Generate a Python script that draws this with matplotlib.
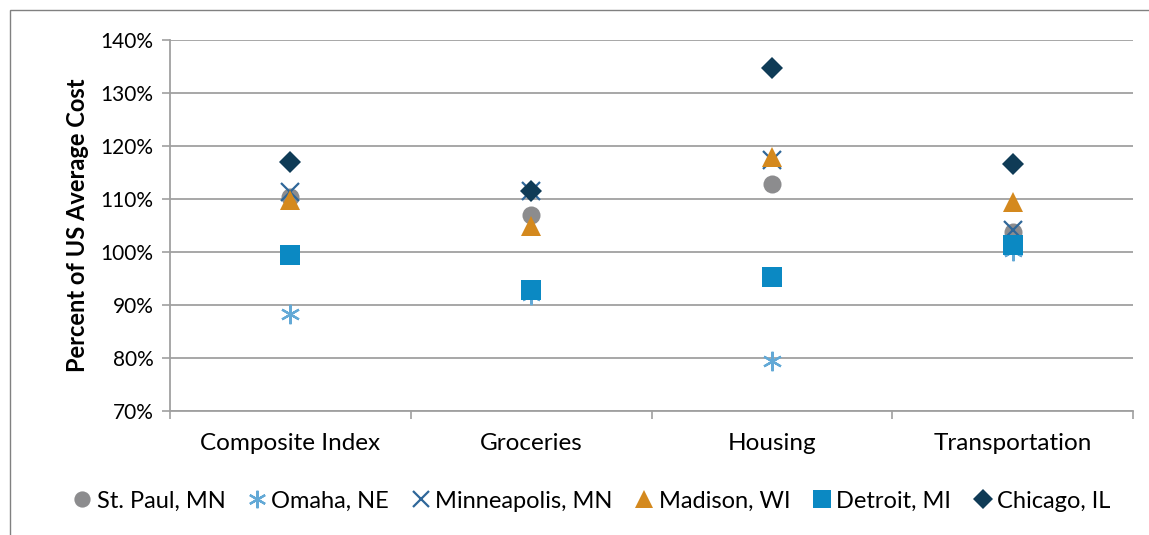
import matplotlib.pyplot as plt
import matplotlib.patches as patches
import numpy as np
from matplotlib.ticker import FuncFormatter, FixedLocator

plt.rcParams['font.family'] = ['Lato', 'DejaVu Sans']

categories = ['Composite Index', 'Groceries', 'Housing', 'Transportation']
st_paul = [110.4, 107.0, 112.8, 103.8]
omaha = [88.3, 91.9, 79.4, 100.2]
minneapolis = [111.3, 111.5, 117.4, 104.2]
madison = [109.8, 104.9, 118.0, 109.4]
detroit = [99.4, 92.8, 95.3, 101.3]
chicago = [117.0, 111.5, 134.7, 116.6]

series = [
    ('St. Paul, MN', st_paul, 'o', '#8c8c8e', 13),
    ('Omaha, NE', omaha, (6, 2, 0), '#63a9d6', 14),
    ('Minneapolis, MN', minneapolis, 'x', '#2f6799', 13),
    ('Madison, WI', madison, '^', '#d4891e', 14),
    ('Detroit, MI', detroit, 's', '#0b89c3', 14),
    ('Chicago, IL', chicago, 'D', '#0f3b56', 11),
]

fig = plt.figure(figsize=(11.49, 5.35), dpi=100)
ax = fig.add_axes([170 / 1149, 1 - 411 / 535, 963 / 1149, 371 / 535])

x = np.arange(len(categories))
for name, vals, m, c, ms in series:
    if m == 'x' or isinstance(m, tuple):
        ax.plot(x, vals, linestyle='none', marker=m, markersize=ms, color=c,
                markeredgewidth=1.6, label=name)
    else:
        ax.plot(x, vals, linestyle='none', marker=m, markersize=ms, color=c,
                markeredgewidth=0, label=name)

ax.set_xlim(-0.5, 3.5)
ax.set_ylim(70, 140)
ax.set_yticks(np.arange(70, 141, 10))
ax.yaxis.set_major_formatter(FuncFormatter(lambda v, p: '%d%%' % v))
ax.yaxis.grid(True, color='#a0a0a0', linewidth=1.3)
ax.set_axisbelow(True)
ax.set_xticks(x)
ax.set_xticklabels(categories, fontsize=17.5)
ax.xaxis.set_minor_locator(FixedLocator([-0.5, 0.5, 1.5, 2.5, 3.5]))
ax.tick_params(axis='x', which='major', length=0, pad=16)
ax.tick_params(axis='x', which='minor', length=6, color='#a0a0a0', width=1.2)
ax.tick_params(axis='y', labelsize=15, length=6, color='#a0a0a0', width=1.2, pad=6)
for s in ['top', 'right']:
    ax.spines[s].set_visible(False)
for s in ['left', 'bottom']:
    ax.spines[s].set_color('#a0a0a0')
    ax.spines[s].set_linewidth(1.3)
ax.set_ylabel('Percent of US Average Cost', fontsize=17, fontweight='bold', labelpad=8)

fig.legend(loc='center', bbox_to_anchor=(590 / 1149, 1 - 501 / 535), ncol=6,
           frameon=False, fontsize=17, handletextpad=0.05, columnspacing=0.8,
           handlelength=1.1, markerscale=0.9)

fig.add_artist(patches.Rectangle((10 / 1149, -0.1), 1.2, 1 - 10 / 535 + 0.1,
                                 transform=fig.transFigure, fill=False,
                                 edgecolor='#808080', linewidth=1))

fig.savefig('out.png', dpi=100)
